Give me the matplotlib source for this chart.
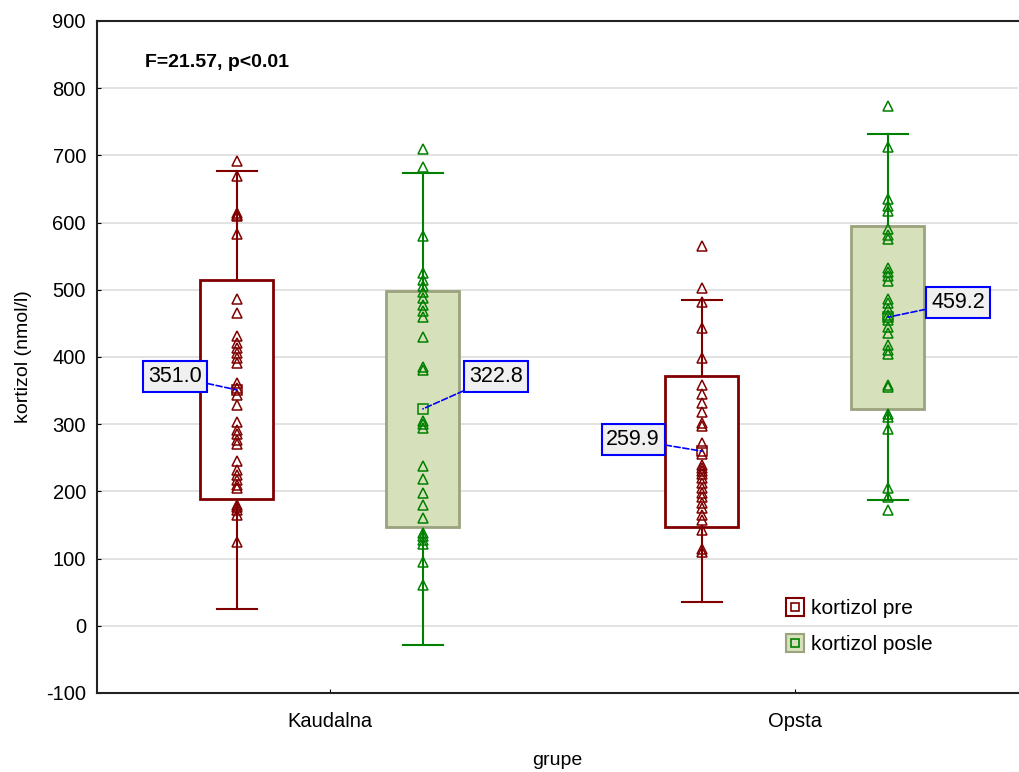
import matplotlib
matplotlib.use("Agg")
from matplotlib import pyplot as plt
from matplotlib.lines import Line2D
from matplotlib.patches import Rectangle

plt.rcParams['font.family'] = ['Liberation Sans', 'DejaVu Sans']
plt.rcParams['axes.unicode_minus'] = False

groups = ['Kaudalna', 'Opsta']
series = ['kortizol pre', 'kortizol posle']

kaudalna_pre = [692, 669, 615, 612, 610, 583, 487, 466, 431, 421, 414, 406, 399, 391,
                362, 354, 344, 329, 304, 292, 285, 277, 270, 245, 232, 225, 217, 210,
                205, 180, 177, 173, 165, 125]
kaudalna_posle = [710, 683, 580, 525, 515, 505, 497, 488, 478, 468, 460, 430, 385, 380,
                  305, 300, 295, 238, 218, 198, 180, 160, 138, 133, 128, 122, 95, 60]
opsta_pre = [565, 503, 482, 443, 398, 358, 345, 332, 318, 302, 298, 272, 255, 240, 235,
             230, 226, 220, 212, 205, 198, 192, 183, 175, 165, 158, 142, 115, 110]
opsta_posle = [773, 712, 635, 625, 617, 590, 582, 575, 533, 527, 520, 513, 487, 480,
               472, 462, 455, 445, 435, 418, 411, 404, 358, 355, 315, 310, 293, 205,
               192, 173]

# mean and sd per group (box = mean +- sd, whiskers = mean +- 2 sd)
means = {'Kaudalna': [351.0, 322.8], 'Opsta': [259.9, 459.2]}
sds = {'Kaudalna': [163.0, 175.5], 'Opsta': [112.5, 136.0]}
points = {'Kaudalna': [kaudalna_pre, kaudalna_posle], 'Opsta': [opsta_pre, opsta_posle]}

stat_text = 'F=21.57, p<0.01'

dark_red = '#800000'
green = '#008000'
box_fill = ['white', '#d6e1bc']
box_edge = [dark_red, '#9aa27e']
pt_color = [dark_red, green]

fig = plt.figure(figsize=(10.19, 7.72), dpi=100)
ax = fig.add_axes([97 / 1019, 1 - 693 / 772, 921 / 1019, 672 / 772])

offsets = [-0.2, 0.2]
bw = 0.157
cw = 0.086

# label placement (x offset from box, y)
label_pos = {'Kaudalna': [(-0.133, 371), (0.157, 371)],
             'Opsta': [(-0.148, 277), (0.151, 481)]}

for gi, g in enumerate(groups):
    for si in range(2):
        x = gi + offsets[si]
        m = means[g][si]
        s = sds[g][si]
        ax.plot([x, x], [m - 2 * s, m + 2 * s], color=pt_color[si], lw=1.5, zorder=2)
        for yy in (m - 2 * s, m + 2 * s):
            ax.plot([x - cw / 2, x + cw / 2], [yy, yy], color=pt_color[si], lw=1.5, zorder=2)
        ax.add_patch(Rectangle((x - bw / 2, m - s), bw, 2 * s, facecolor=box_fill[si],
                               edgecolor=box_edge[si], lw=2, zorder=3))
        vals = points[g][si]
        ax.plot([x] * len(vals), vals, linestyle='none', marker='^', markersize=7,
                markerfacecolor='none', markeredgecolor=pt_color[si], mew=1.1, zorder=4)
        ax.plot([x], [m], linestyle='none', marker='s', markersize=7,
                markerfacecolor='none', markeredgecolor=pt_color[si], mew=1.1, zorder=5)
        dx, ly = label_pos[g][si]
        ax.annotate('%.1f' % m, xy=(x, m), xytext=(x + dx, ly), ha='center', va='center',
                    fontsize=15.5, zorder=6,
                    bbox=dict(boxstyle='square,pad=0.22', facecolor='#f0f0f0',
                              edgecolor='blue', lw=1.5),
                    arrowprops=dict(arrowstyle='-', color='blue', linestyle='--', lw=1.2,
                                    shrinkA=0, shrinkB=0))

ax.set_xlim(-0.501, 1.48)
ax.set_ylim(-100, 900)
ax.set_yticks(range(-100, 901, 100))
ax.set_xticks(range(len(groups)))
ax.set_xticklabels(groups)
ax.tick_params(axis='both', direction='in', length=3, labelsize=14.5, pad=8)
ax.tick_params(axis='x', pad=14)
ax.yaxis.grid(True, color='#dddddd', lw=1.2, zorder=0)
ax.set_axisbelow(True)
ax.spines['right'].set_visible(False)
for sp in ('left', 'bottom', 'top'):
    ax.spines[sp].set_linewidth(1.5)
    ax.spines[sp].set_color('#222222')

ax.set_ylabel('kortizol (nmol/l)', fontsize=14, labelpad=10)
ax.set_xlabel('grupe', fontsize=14, labelpad=15)
ax.text(0.052, 0.938, stat_text, transform=ax.transAxes, fontsize=14,
        fontweight='bold', ha='left', va='center')

handles = []
for si in range(2):
    outer = Line2D([], [], linestyle='none', marker='s', markersize=13,
                   markerfacecolor=box_fill[si], markeredgecolor=dark_red if si == 0 else box_edge[si],
                   mew=1.5)
    inner = Line2D([], [], linestyle='none', marker='s', markersize=6,
                   markerfacecolor='none', markeredgecolor=pt_color[si], mew=1.2)
    handles.append((outer, inner))
ax.legend(handles, series, loc='lower left', bbox_to_anchor=(0.728, 0.03),
          frameon=False, fontsize=15, handlelength=0.8, handletextpad=0.4,
          labelspacing=0.8)

fig.savefig('out.png', dpi=100)
